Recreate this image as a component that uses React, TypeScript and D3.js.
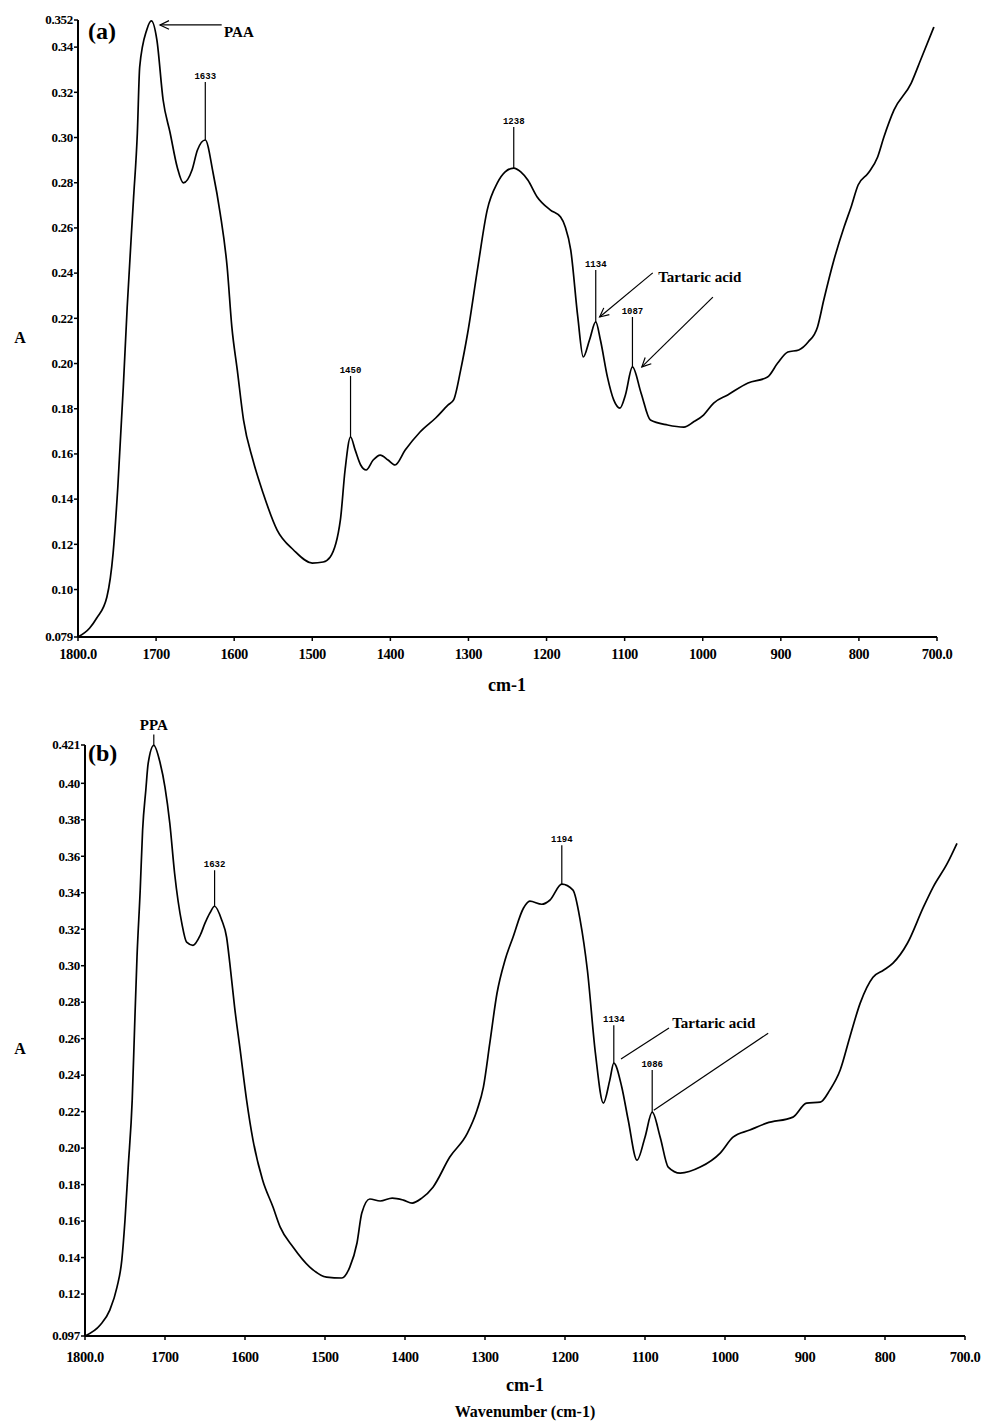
import React from "react";
import * as d3 from "d3";

// ---------- Panel (a) spectrum ----------
const specA_wn = [1800, 1785, 1776, 1763, 1755, 1749, 1742, 1737, 1729, 1724, 1721, 1712, 1706, 1699, 1691, 1682, 1673, 1665, 1654, 1647, 1637, 1627, 1618, 1609, 1603, 1596, 1588, 1576, 1563, 1545, 1524, 1500, 1486, 1477, 1464, 1458, 1451, 1445, 1438, 1431, 1422, 1413, 1403, 1394, 1381, 1362, 1342, 1326, 1319, 1310, 1301, 1288, 1276, 1263, 1253, 1242, 1233, 1224, 1212, 1195, 1182, 1176, 1169, 1160, 1153, 1145, 1137, 1131, 1122, 1114, 1106, 1099, 1090, 1079, 1067, 1045, 1024, 1012, 999, 986, 968, 942, 917, 904, 891, 877, 865, 853, 845, 832, 819, 810, 801, 788, 776, 768, 755, 733, 721, 704];
const specA_abs = [0.079, 0.083, 0.0874, 0.0967, 0.1162, 0.1454, 0.1896, 0.2250, 0.2724, 0.302, 0.3312, 0.3476, 0.3516, 0.3432, 0.3166, 0.302, 0.287, 0.2799, 0.2856, 0.2945, 0.2989, 0.2843, 0.2666, 0.2427, 0.2162, 0.1971, 0.175, 0.1573, 0.1427, 0.1263, 0.1175, 0.1117, 0.1122, 0.1144, 0.1308, 0.1529, 0.1675, 0.1617, 0.1551, 0.1529, 0.1573, 0.1595, 0.1573, 0.1551, 0.1617, 0.1697, 0.1759, 0.1817, 0.1839, 0.1971, 0.2135, 0.2427, 0.2679, 0.2799, 0.2848, 0.2865, 0.2848, 0.2812, 0.2737, 0.2679, 0.2648, 0.2604, 0.2502, 0.2206, 0.2029, 0.2104, 0.2184, 0.2104, 0.194, 0.1839, 0.1803, 0.1861, 0.1985, 0.187, 0.175, 0.1728, 0.1719, 0.1741, 0.1772, 0.1825, 0.1861, 0.1914, 0.194, 0.2002, 0.2051, 0.206, 0.2095, 0.2162, 0.2281, 0.2458, 0.2604, 0.2693, 0.279, 0.2843, 0.2914, 0.3002, 0.3122, 0.3241, 0.3343, 0.3489];

// ---------- Panel (b) spectrum ----------
const specB_wn = [1800, 1781, 1769, 1760, 1754, 1750, 1746, 1741, 1738, 1735, 1731, 1728, 1724, 1721, 1714, 1706, 1700, 1694, 1688, 1679, 1673, 1665, 1656, 1650, 1644, 1638, 1629, 1623, 1619, 1613, 1606, 1598, 1590, 1578, 1565, 1556, 1540, 1519, 1498, 1479, 1469, 1460, 1454, 1444, 1431, 1416, 1402, 1391, 1379, 1365, 1344, 1322, 1310, 1302, 1294, 1285, 1275, 1265, 1252, 1244, 1229, 1219, 1204, 1190, 1181, 1172, 1162, 1152, 1144, 1139, 1129, 1121, 1110, 1100, 1091, 1081, 1071, 1056, 1031, 1006, 990, 969, 948, 915, 898, 881, 869, 856, 844, 831, 815, 802, 790, 772, 752, 740, 722, 710];
const specB_abs = [0.097, 0.103, 0.1112, 0.1238, 0.1386, 0.1606, 0.1896, 0.2263, 0.2663, 0.3047, 0.3414, 0.3743, 0.3962, 0.411, 0.4208, 0.411, 0.3978, 0.3781, 0.3507, 0.3233, 0.3129, 0.3112, 0.3167, 0.3233, 0.3288, 0.3326, 0.3249, 0.3156, 0.3014, 0.2773, 0.2537, 0.2263, 0.2044, 0.1825, 0.1677, 0.1567, 0.1458, 0.1348, 0.1293, 0.1288, 0.1348, 0.148, 0.1644, 0.1721, 0.171, 0.1726, 0.1715, 0.1699, 0.1726, 0.1786, 0.1951, 0.2082, 0.2208, 0.2334, 0.2575, 0.2849, 0.303, 0.3156, 0.3315, 0.3354, 0.3337, 0.3359, 0.3447, 0.3414, 0.3249, 0.2975, 0.2521, 0.2247, 0.2373, 0.2466, 0.2334, 0.2154, 0.1934, 0.206, 0.2197, 0.206, 0.1896, 0.1863, 0.1896, 0.1973, 0.206, 0.2099, 0.2137, 0.217, 0.2247, 0.2252, 0.2318, 0.2428, 0.2608, 0.2795, 0.2937, 0.2975, 0.3014, 0.3123, 0.3321, 0.343, 0.3562, 0.3671];

// ---------- Axes ----------
const xTicks = [1800, 1700, 1600, 1500, 1400, 1300, 1200, 1100, 1000, 900, 800, 700];
const xTickLabels = ["1800.0", "1700", "1600", "1500", "1400", "1300", "1200", "1100", "1000", "900", "800", "700.0"];
const yTicksA = [0.079, 0.1, 0.12, 0.14, 0.16, 0.18, 0.2, 0.22, 0.24, 0.26, 0.28, 0.3, 0.32, 0.34, 0.352];
const yTickLabelsA = ["0.079", "0.10", "0.12", "0.14", "0.16", "0.18", "0.20", "0.22", "0.24", "0.26", "0.28", "0.30", "0.32", "0.34", "0.352"];
const yTicksB = [0.097, 0.12, 0.14, 0.16, 0.18, 0.2, 0.22, 0.24, 0.26, 0.28, 0.3, 0.32, 0.34, 0.36, 0.38, 0.4, 0.421];
const yTickLabelsB = ["0.097", "0.12", "0.14", "0.16", "0.18", "0.20", "0.22", "0.24", "0.26", "0.28", "0.30", "0.32", "0.34", "0.36", "0.38", "0.40", "0.421"];

// ---------- Peak markers (label, position wn, top-of-line A) ----------
const peaksA_label = ["1633", "1450", "1238", "1134", "1087"];
const peaksA_wn = [1637, 1451, 1242, 1137, 1090];
const peaksA_top = [0.3246, 0.1945, 0.3047, 0.2414, 0.2206];
const peaksB_label = ["PPA", "1632", "1194", "1134", "1086"];
const peaksB_wn = [1714, 1638, 1204, 1139, 1091];
const peaksB_top = [0.4268, 0.3523, 0.366, 0.2674, 0.2428];

const SERIF = "'Liberation Serif', 'Times New Roman', serif";
const MONO = "'Liberation Mono', 'DejaVu Sans Mono', monospace";

function peakAbs(wns, abs, wn) {
  const i = wns.indexOf(wn);
  return i >= 0 ? abs[i] : 0;
}

function Arrow({ x1, y1, x2, y2 }) {
  const ang = Math.atan2(y2 - y1, x2 - x1);
  const L = 10, w = 0.45;
  const a1 = [x1 + L * Math.cos(ang + w), y1 + L * Math.sin(ang + w)];
  const a2 = [x1 + L * Math.cos(ang - w), y1 + L * Math.sin(ang - w)];
  return (
    <g stroke="#000" strokeWidth={1.2} fill="none">
      <line x1={x1} y1={y1} x2={x2} y2={y2} />
      <path d={`M${a1[0]},${a1[1]} L${x1},${y1} L${a2[0]},${a2[1]}`} />
    </g>
  );
}

function Panel({ xs, ys, wns, abs, yTicks, yLabels, peakLabels, peakWn, peakTop, labelOffset, children }) {
  const line = d3
    .line()
    .x((d) => xs(d[0]))
    .y((d) => ys(d[1]))
    .curve(d3.curveMonotoneX);
  const pts = wns.map((w, i) => [w, abs[i]]);
  const [x0, x1] = xs.range();
  const [yb, yt] = ys.range();
  return (
    <g>
      <line x1={x0} y1={yt} x2={x0} y2={yb} stroke="#000" strokeWidth={2} />
      <line x1={x0} y1={yb} x2={x1} y2={yb} stroke="#000" strokeWidth={2} />
      {yTicks.map((t, i) => (
        <g key={"y" + i}>
          <line x1={x0 - 4} x2={x0} y1={ys(t)} y2={ys(t)} stroke="#000" strokeWidth={1.5} />
          <text x={x0 - 5} y={ys(t)} dy="0.33em" textAnchor="end" fontFamily={SERIF} fontWeight="bold" fontSize={13} letterSpacing={-0.3}>
            {yLabels[i]}
          </text>
        </g>
      ))}
      {xTicks.map((t, i) => (
        <g key={"x" + i}>
          <line x1={xs(t)} x2={xs(t)} y1={yb} y2={yb + 4} stroke="#000" strokeWidth={1.5} />
          <text x={xs(t)} y={yb + labelOffset} textAnchor="middle" fontFamily={SERIF} fontWeight="bold" fontSize={14.5} letterSpacing={-0.4}>
            {xTickLabels[i]}
          </text>
        </g>
      ))}
      <path d={line(pts)} fill="none" stroke="#000" strokeWidth={1.7} strokeLinejoin="round" />
      {peakLabels.map((lab, i) => {
        const px = xs(peakWn[i]);
        const py = ys(peakAbs(wns, abs, peakWn[i]));
        const pt = ys(peakTop[i]);
        const isName = lab.length === 3;
        return (
          <g key={"p" + i}>
            <line x1={px} x2={px} y1={py} y2={pt} stroke="#000" strokeWidth={1.2} />
            <text
              x={px}
              y={pt - (isName ? 4 : 3)}
              textAnchor="middle"
              fontFamily={isName ? SERIF : MONO}
              fontWeight="bold"
              fontSize={isName ? 15 : 9}
            >
              {lab}
            </text>
          </g>
        );
      })}
      {children}
    </g>
  );
}

export default function App() {
  const xA = d3.scaleLinear().domain([1800, 700]).range([78, 937]);
  const yA = d3.scaleLinear().domain([0.079, 0.352]).range([637, 20]);
  const xB = d3.scaleLinear().domain([1800, 700]).range([85, 965]);
  const yB = d3.scaleLinear().domain([0.097, 0.421]).range([1336, 745]);

  return (
    <svg
      width={994}
      height={1424}
      style={{ position: "absolute", left: 0, top: 0, background: "#fff" }}
      xmlns="http://www.w3.org/2000/svg"
    >
      <rect width={994} height={1424} fill="#fff" />
      <Panel
        xs={xA}
        ys={yA}
        wns={specA_wn}
        abs={specA_abs}
        yTicks={yTicksA}
        yLabels={yTickLabelsA}
        peakLabels={peaksA_label}
        peakWn={peaksA_wn}
        peakTop={peaksA_top}
        labelOffset={22}
      >
        <text x={88} y={39} fontFamily={SERIF} fontWeight="bold" fontSize={24}>(a)</text>
        <Arrow x1={xA(1695)} y1={yA(0.3498)} x2={xA(1616)} y2={yA(0.3498)} />
        <text x={xA(1613)} y={yA(0.3467)} dy="0.35em" fontFamily={SERIF} fontWeight="bold" fontSize={15}>PAA</text>
        <text x={xA(1057)} y={yA(0.2383)} dy="0.35em" fontFamily={SERIF} fontWeight="bold" fontSize={15}>Tartaric acid</text>
        <Arrow x1={xA(1132)} y1={yA(0.2206)} x2={xA(1064)} y2={yA(0.2401)} />
        <Arrow x1={xA(1078)} y1={yA(0.1985)} x2={xA(987)} y2={yA(0.2294)} />
        <text x={20} y={337} dy="0.35em" textAnchor="middle" fontFamily={SERIF} fontWeight="bold" fontSize={16}>A</text>
        <text x={507} y={685} dy="0.35em" textAnchor="middle" fontFamily={SERIF} fontWeight="bold" fontSize={18}>cm-1</text>
      </Panel>
      <Panel
        xs={xB}
        ys={yB}
        wns={specB_wn}
        abs={specB_abs}
        yTicks={yTicksB}
        yLabels={yTickLabelsB}
        peakLabels={peaksB_label}
        peakWn={peaksB_wn}
        peakTop={peaksB_top}
        labelOffset={26}
      >
        <text x={88} y={761} fontFamily={SERIF} fontWeight="bold" fontSize={24}>(b)</text>
        <text x={xB(1066)} y={yB(0.269)} dy="0.35em" fontFamily={SERIF} fontWeight="bold" fontSize={15}>Tartaric acid</text>
        <line x1={xB(1130)} y1={yB(0.2488)} x2={xB(1070)} y2={yB(0.2658)} stroke="#000" strokeWidth={1.2} />
        <line x1={xB(1089)} y1={yB(0.2208)} x2={xB(946)} y2={yB(0.263)} stroke="#000" strokeWidth={1.2} />
        <text x={20} y={1048} dy="0.35em" textAnchor="middle" fontFamily={SERIF} fontWeight="bold" fontSize={16}>A</text>
        <text x={525} y={1385} dy="0.35em" textAnchor="middle" fontFamily={SERIF} fontWeight="bold" fontSize={18}>cm-1</text>
        <text x={525} y={1411} dy="0.35em" textAnchor="middle" fontFamily={SERIF} fontWeight="bold" fontSize={16}>Wavenumber (cm-1)</text>
      </Panel>
    </svg>
  );
}
